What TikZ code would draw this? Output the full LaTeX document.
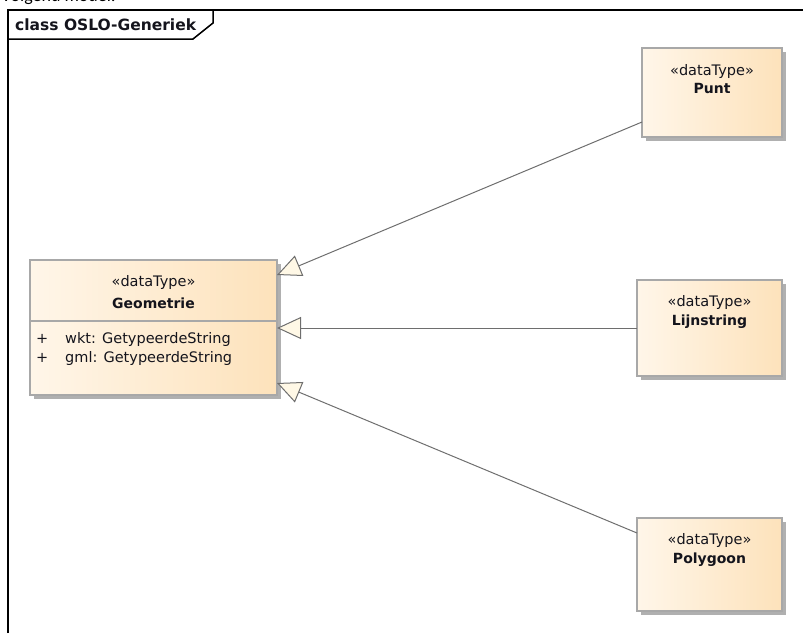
\documentclass[tikz,border=0pt]{standalone}
\usepackage{fontspec}
\setmainfont{DejaVu Sans}
\newfontfamily\carl{Carlito}
\usetikzlibrary{arrows.meta}
\definecolor{boxl}{HTML}{FFF6E9}
\definecolor{boxr}{HTML}{FDE2BB}
\definecolor{boxline}{HTML}{A8A8A8}
\definecolor{shad}{HTML}{B0B0B0}
\definecolor{conn}{HTML}{6E6E6E}
\definecolor{headfill}{HTML}{FFF8E6}
\definecolor{txt}{HTML}{14141C}
\tikzset{
  umlbox/.style={draw=boxline, line width=1.2pt, left color=boxl, right color=boxr,
    shading angle=90, rectangle, inner sep=0pt, outer sep=0pt, anchor=north west},
  shadowbox/.style={fill=shad, draw=none},
  stereo/.style={font=\fontsize{14.5}{16}\selectfont, text=txt, inner sep=0pt},
  cname/.style={font=\fontsize{14}{16}\selectfont\bfseries, text=txt, inner sep=0pt},
  attr/.style={font=\fontsize{14.5}{16}\selectfont, text=txt, inner sep=0pt, anchor=west},
  gen/.style={draw=conn, line width=1pt,
    -{Triangle[length=24pt,width=22pt,fill=headfill,line width=1pt]}},
  frameline/.style={draw=black, line width=1.5pt},
}
\begin{document}
\begin{tikzpicture}[x=1pt,y=-1pt]
\useasboundingbox (0,0) rectangle (803,633);
\begin{scope}
\clip (0,0) rectangle (803,633);
\node[font=\carl\fontsize{18}{20}\selectfont, anchor=base west, inner sep=0pt] (intro) at (1,1.5) {Volgend model:};
% frame
\draw[frameline] (8,633) -- (8,10) -- (805,10);
\draw[frameline] (8,39) -- (193,39) -- (213,23) -- (213,10);
\node[font=\fontsize{15.5}{17}\selectfont\bfseries, anchor=west, inner sep=0pt, text=txt] (frametitle) at (15,25) {class OSLO-Generiek};

% shadows
\fill[shadowbox] (34,264) rectangle (281,399);
\fill[shadowbox] (646,52) rectangle (786,141);
\fill[shadowbox] (641,284) rectangle (786,380);
\fill[shadowbox] (641,522) rectangle (786,615);

% Geometrie
\node[umlbox, minimum width=247, minimum height=135] (geo) at (30,260) {};
\draw[boxline, line width=1.2pt] (geo.west |- 0,321) -- (geo.east |- 0,321);
\node[stereo] (geos) at ([yshift=-22]geo.north) {«dataType»};
\node[cname] (geon) at ([yshift=-43]geo.north) {Geometrie};
\node[attr] (p1) at (36,339) {+};
\node[attr] (a1) at (65,339) {wkt: GetypeerdeString};
\node[attr] (p2) at (36,358) {+};
\node[attr] (a2) at (65,358) {gml: GetypeerdeString};

% Punt
\node[umlbox, minimum width=140, minimum height=89] (punt) at (642,48) {};
\node[stereo] (punts) at ([yshift=-23]punt.north) {«dataType»};
\node[cname] (puntn) at ([yshift=-40]punt.north) {Punt};

% Lijnstring
\node[umlbox, minimum width=145, minimum height=96] (lijn) at (637,280) {};
\node[stereo] (lijns) at ([yshift=-22]lijn.north) {«dataType»};
\node[cname] (lijnn) at ([yshift=-42]lijn.north) {Lijnstring};

% Polygoon
\node[umlbox, minimum width=145, minimum height=93] (poly) at (637,518) {};
\node[stereo] (polys) at ([yshift=-22]poly.north) {«dataType»};
\node[cname] (polyn) at ([yshift=-42]poly.north) {Polygoon};

% generalisations
\draw[gen] ([yshift=15]punt.south west) -- ([yshift=-15]geo.north east);
\draw[gen] (lijn.west) -- (geo.east |- lijn.west);
\draw[gen] ([yshift=-15]poly.north west) -- ([yshift=12]geo.south east);
\end{scope}
\end{tikzpicture}
\end{document}
